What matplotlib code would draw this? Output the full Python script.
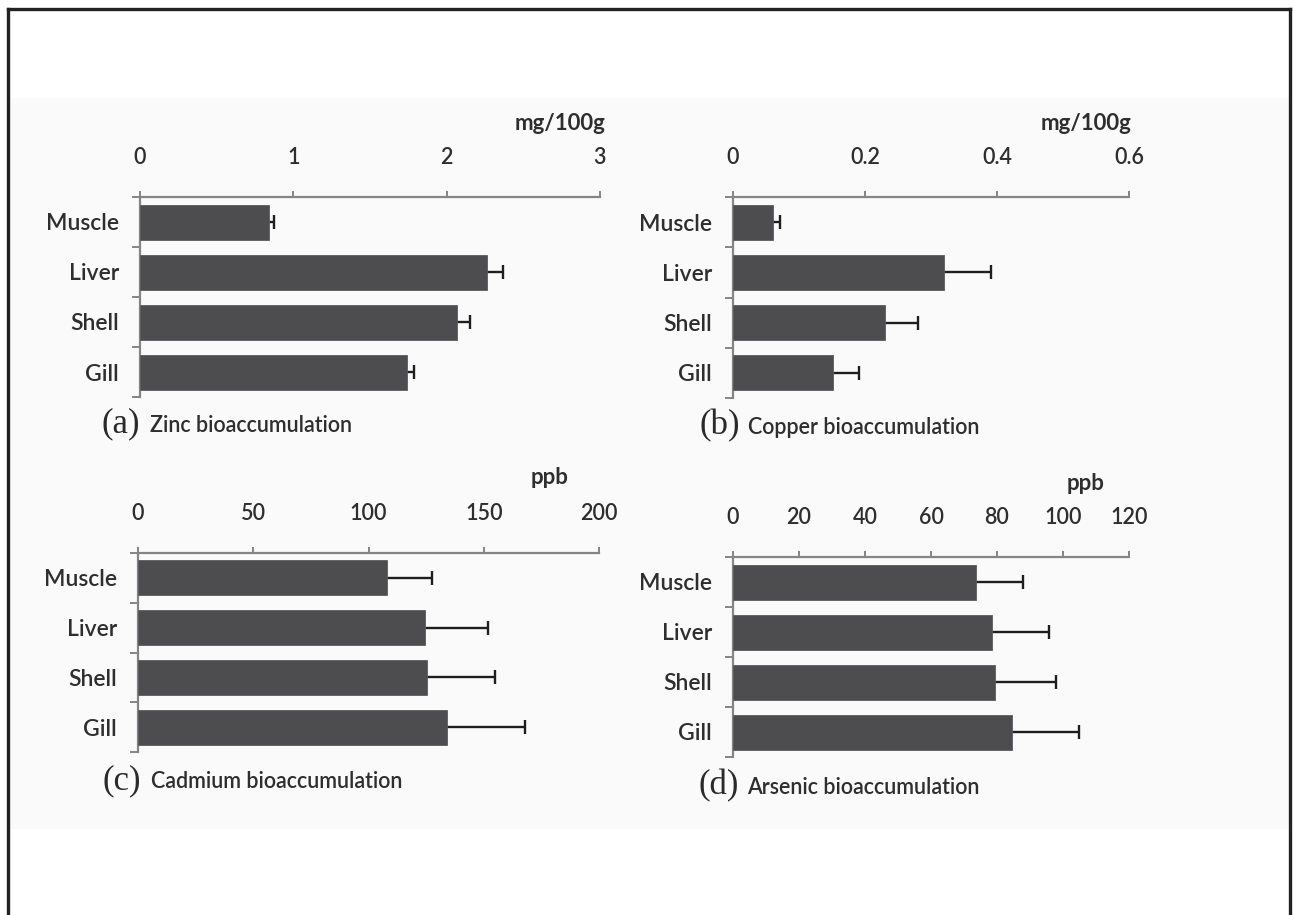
import matplotlib
matplotlib.use("Agg")
import matplotlib.pyplot as plt
from matplotlib.lines import Line2D
from matplotlib.patches import Rectangle
import numpy as np

# tissues, top to bottom
tissues = ["Muscle", "Liver", "Shell", "Gill"]

zinc = [0.84, 2.26, 2.07, 1.74]
zinc_err = [0.035, 0.11, 0.08, 0.05]
zinc_ticks = [0, 1, 2, 3]

copper = [0.061, 0.32, 0.230, 0.152]
copper_err = [0.010, 0.071, 0.050, 0.039]
copper_ticks = [0, 0.2, 0.4, 0.6]

cadmium = [108, 124.5, 125.5, 134]
cadmium_err = [19.5, 27.5, 29.5, 34]
cadmium_ticks = [0, 50, 100, 150, 200]

arsenic = [73.6, 78.5, 79.4, 84.5]
arsenic_err = [14.3, 17.3, 18.5, 20.3]
arsenic_ticks = [0, 20, 40, 60, 80, 100, 120]

W, H = 1293, 915
plt.rcParams['font.family'] = ['Lato', 'DejaVu Sans']
txt = '#2e2e2e'
axc = '#858585'

fig = plt.figure(figsize=(W / 100, H / 100), dpi=100)
fig.patch.set_facecolor('white')

# light grey panel behind the charts and the outer frame
fig.add_artist(Rectangle((9 / W, 1 - 829 / H), (1290 - 9) / W, (829 - 98) / H,
                         transform=fig.transFigure, facecolor='#fafafa', edgecolor='none', zorder=0))
fig.add_artist(Line2D([8 / W, 8 / W], [0, 1 - 9 / H], transform=fig.transFigure, color='#222222', lw=2.4))
fig.add_artist(Line2D([8 / W, 1290 / W], [1 - 9 / H, 1 - 9 / H], transform=fig.transFigure, color='#222222', lw=2.4))
fig.add_artist(Line2D([1290 / W, 1290 / W], [0, 1 - 9 / H], transform=fig.transFigure, color='#222222', lw=2.4))


def px_axes(left, right, top, bottom):
    return fig.add_axes([left / W, 1 - bottom / H, (right - left) / W, (bottom - top) / H])


def panel(box, vals, errs, ticks, unit, unit_xy, letter, name, cap_xy):
    ax = px_axes(*box)
    ax.set_facecolor('none')
    y = np.arange(len(tissues))
    ax.barh(y, vals, height=0.7, color='#4d4d4f', edgecolor='#5c5c5e', linewidth=0.6, zorder=3)
    # symmetric bars drawn behind the bars, so only the upper half shows
    ax.errorbar(vals, y, xerr=errs, fmt='none', ecolor='#1e1e1e',
                elinewidth=1.7, capsize=5, capthick=1.7, zorder=2)
    ax.set_ylim(len(tissues) - 0.5, -0.5)
    ax.set_xlim(ticks[0], ticks[-1])
    ax.xaxis.tick_top()
    ax.set_xticks(ticks)
    ax.set_xticklabels([str(t) for t in ticks])
    ax.tick_params(axis='x', direction='out', length=4, width=1.4, color=axc, pad=17,
                   labelsize=15.5, labelcolor=txt)
    ax.set_yticks(y)
    ax.set_yticklabels(tissues, fontweight='semibold')
    ax.set_yticks(np.arange(len(tissues) + 1) - 0.5, minor=True)
    ax.tick_params(axis='y', which='major', length=0, pad=15, labelsize=16.5, labelcolor=txt)
    ax.tick_params(axis='y', which='minor', direction='out', length=6, width=1.4, color=axc)
    for lab in ax.get_xticklabels():
        lab.set_fontweight('semibold')
    for s in ['right', 'bottom']:
        ax.spines[s].set_visible(False)
    for s in ['top', 'left']:
        ax.spines[s].set_color(axc)
        ax.spines[s].set_linewidth(1.6)
    fig.text(unit_xy[0] / W, 1 - unit_xy[1] / H, unit, ha='right', va='center',
             fontsize=16, fontweight='bold', color=txt)
    fig.text(cap_xy[0] / W, 1 - cap_xy[1] / H, letter, ha='left', va='center',
             fontsize=25, family=['Liberation Serif', 'DejaVu Serif'], color='#2a2a2a')
    fig.text((cap_xy[0] + 49) / W, 1 - (cap_xy[1] + 1) / H, name, ha='left', va='center',
             fontsize=15.5, fontweight='semibold', color=txt)
    return ax


panel((140, 600, 197, 397), zinc, zinc_err, zinc_ticks, 'mg/100g', (605, 123),
      '(a)', 'Zinc bioaccumulation', (101, 424))
panel((733, 1129, 197, 398), copper, copper_err, copper_ticks, 'mg/100g', (1132, 123),
      '(b)', 'Copper bioaccumulation', (699, 426))
panel((138, 599, 553, 752), cadmium, cadmium_err, cadmium_ticks, 'ppb', (568, 478),
      '(c)', 'Cadmium bioaccumulation', (102, 781))
panel((733, 1129, 557, 757), arsenic, arsenic_err, arsenic_ticks, 'ppb', (1105, 483),
      '(d)', 'Arsenic bioaccumulation', (698, 786))

fig.savefig('out.png', dpi=100)
